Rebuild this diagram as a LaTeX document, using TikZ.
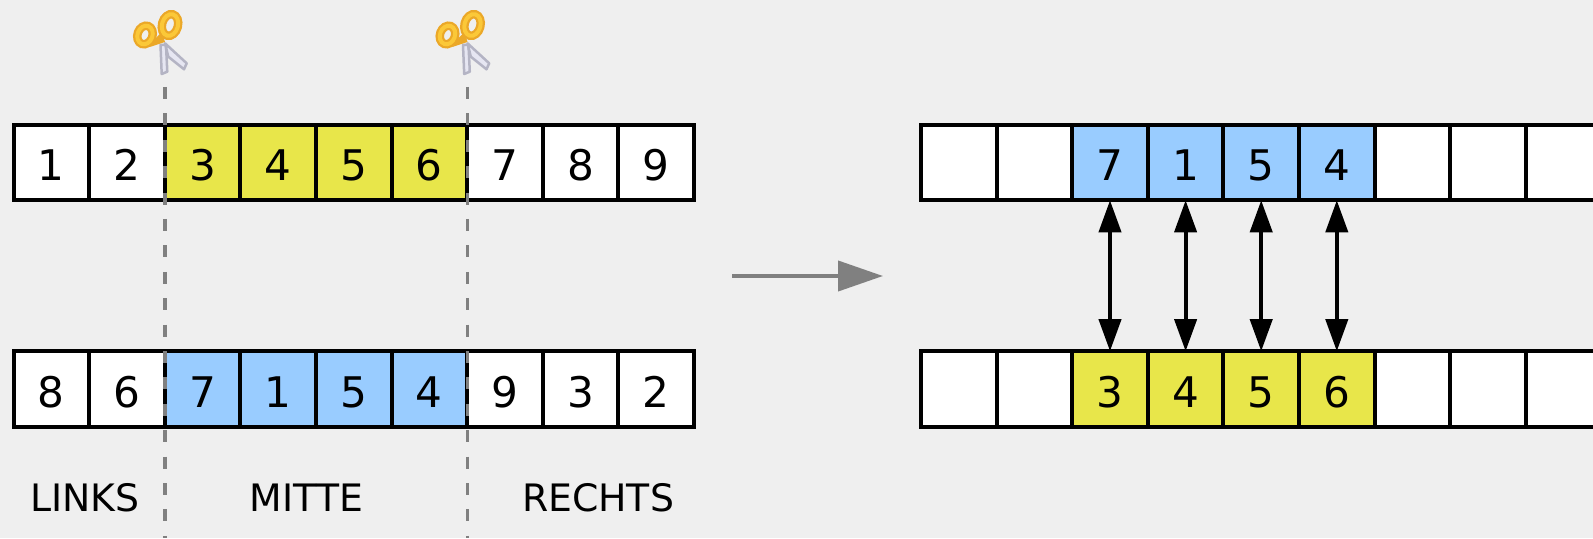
\documentclass[tikz,border=0pt]{standalone}
\usepackage{fontspec}
\setmainfont{DejaVu Sans}
\usetikzlibrary{arrows.meta}
\definecolor{bggray}{HTML}{EFEFEF}
\definecolor{midyellow}{HTML}{E8E64A}
\definecolor{midblue}{HTML}{99CCFF}
\definecolor{cutgray}{HTML}{808080}
\definecolor{handleout}{HTML}{EBA828}
\definecolor{handlein}{HTML}{FBC838}
\definecolor{bladefill}{HTML}{E6E6F2}
\definecolor{bladeedge}{HTML}{B4B4C4}
\tikzset{
	cell/.style={draw=black, line width=0.08cm, minimum size=1.512cm, inner sep=0pt, text height=0.76cm, text depth=0.04cm, font=\fontsize{24}{30}\selectfont},
	cellw/.style={cell, fill=white},
	celly/.style={cell, fill=midyellow},
	cellb/.style={cell, fill=midblue},
	partlabel/.style={font=\fontsize{21.5}{25}\selectfont},
	cutline/.style={draw=cutgray, line width=0.075cm, dash pattern=on 0.24cm off 0.288cm},
	swaparrow/.style={line width=0.08cm, shorten <=-0.04cm, shorten >=-0.04cm, {Triangle[length=0.64cm,width=0.44cm]}-{Triangle[length=0.64cm,width=0.44cm]}},
	steparrow/.style={draw=cutgray, line width=0.08cm, -{Triangle[length=0.9cm,width=0.6cm]}, color=cutgray},
	bladeshape/.style={fill=bladefill, draw=bladeedge, line width=0.05cm, line join=round},
	scissors/.pic={
		\path[bladeshape] (-0.03,-0.04) -- (0.08,-0.04) -- (0.106,-0.574) -- (-0.006,-0.62) -- cycle;
		\path[bladeshape] (0.06,-0.006) -- (0.494,-0.406) -- (0.44,-0.526) -- (0.126,-0.274) -- cycle;
		\fill[handleout] (-0.24,-0.08) -- (0.06,0.02) -- (0,0.22) -- (-0.12,0.1) -- cycle;
		\draw[draw=handleout, line width=0.17cm, rotate around={70:(-0.34,0.16)}] (-0.34,0.16) ellipse (0.19 and 0.15);
		\draw[draw=handleout, line width=0.17cm, rotate around={75:(0.16,0.36)}] (0.16,0.36) ellipse (0.22 and 0.16);
		\draw[draw=handlein, line width=0.08cm, rotate around={70:(-0.34,0.16)}] (-0.34,0.16) ellipse (0.19 and 0.15);
		\draw[draw=handlein, line width=0.08cm, rotate around={75:(0.16,0.36)}] (0.16,0.36) ellipse (0.22 and 0.16);
	}
}

\begin{document}
\begin{tikzpicture}
		%%%%% START %%%%%
		
		\useasboundingbox (0, 0) rectangle (31.86, 10.76);
		\fill[bggray] (0, 0) rectangle (31.86, 10.76);
		
		\node[cellw] (a1) at (1.026, 7.51) {1};
		\node[cellw] (a2) at (2.538, 7.51) {2};
		\node[celly] (a3) at (4.05, 7.51) {3};
		\node[celly] (a4) at (5.562, 7.51) {4};
		\node[celly] (a5) at (7.074, 7.51) {5};
		\node[celly] (a6) at (8.586, 7.51) {6};
		\node[cellw] (a7) at (10.098, 7.51) {7};
		\node[cellw] (a8) at (11.61, 7.51) {8};
		\node[cellw] (a9) at (13.122, 7.51) {9};
		
		\node[cellw] (b1) at (1.026, 2.98) {8};
		\node[cellw] (b2) at (2.538, 2.98) {6};
		\node[cellb] (b3) at (4.05, 2.98) {7};
		\node[cellb] (b4) at (5.562, 2.98) {1};
		\node[cellb] (b5) at (7.074, 2.98) {5};
		\node[cellb] (b6) at (8.586, 2.98) {4};
		\node[cellw] (b7) at (10.098, 2.98) {9};
		\node[cellw] (b8) at (11.61, 2.98) {3};
		\node[cellw] (b9) at (13.122, 2.98) {2};
		
		\node[cellw] (c1) at (19.176, 7.51) {};
		\node[cellw] (c2) at (20.688, 7.51) {};
		\node[cellb] (c3) at (22.2, 7.51) {7};
		\node[cellb] (c4) at (23.712, 7.51) {1};
		\node[cellb] (c5) at (25.224, 7.51) {5};
		\node[cellb] (c6) at (26.736, 7.51) {4};
		\node[cellw] (c7) at (28.248, 7.51) {};
		\node[cellw] (c8) at (29.76, 7.51) {};
		\node[cellw] (c9) at (31.272, 7.51) {};
		
		\node[cellw] (d1) at (19.176, 2.98) {};
		\node[cellw] (d2) at (20.688, 2.98) {};
		\node[celly] (d3) at (22.2, 2.98) {3};
		\node[celly] (d4) at (23.712, 2.98) {4};
		\node[celly] (d5) at (25.224, 2.98) {5};
		\node[celly] (d6) at (26.736, 2.98) {6};
		\node[cellw] (d7) at (28.248, 2.98) {};
		\node[cellw] (d8) at (29.76, 2.98) {};
		\node[cellw] (d9) at (31.272, 2.98) {};
		
		\draw[swaparrow] (c3.south) -- (d3.north);
		\draw[swaparrow] (c4.south) -- (d4.north);
		\draw[swaparrow] (c5.south) -- (d5.north);
		\draw[swaparrow] (c6.south) -- (d6.north);
		
		\coordinate (stepstart) at (14.64, 5.24);
		\coordinate (stepend) at (17.66, 5.24);
		\draw[steparrow] (stepstart) -- (stepend);
		
		\coordinate (cutatop) at (3.3, 9.02);
		\coordinate (cutabot) at (3.3, 0);
		\coordinate (cutbtop) at (9.35, 9.02);
		\coordinate (cutbbot) at (9.35, 0);
		\draw[cutline] (cutatop) -- (cutabot);
		\draw[cutline] (cutbtop) -- (cutbbot);
		
		\pic at (3.24, 9.9) {scissors};
		\pic at (9.29, 9.9) {scissors};
		
		\node[partlabel] (links) at (1.7, 0.8) {LINKS};
		\node[partlabel] (mitte) at (6.13, 0.8) {MITTE};
		\node[partlabel] (rechts) at (11.96, 0.8) {RECHTS};
		
		%%%%% END %%%%%
	\end{tikzpicture}
\end{document}
